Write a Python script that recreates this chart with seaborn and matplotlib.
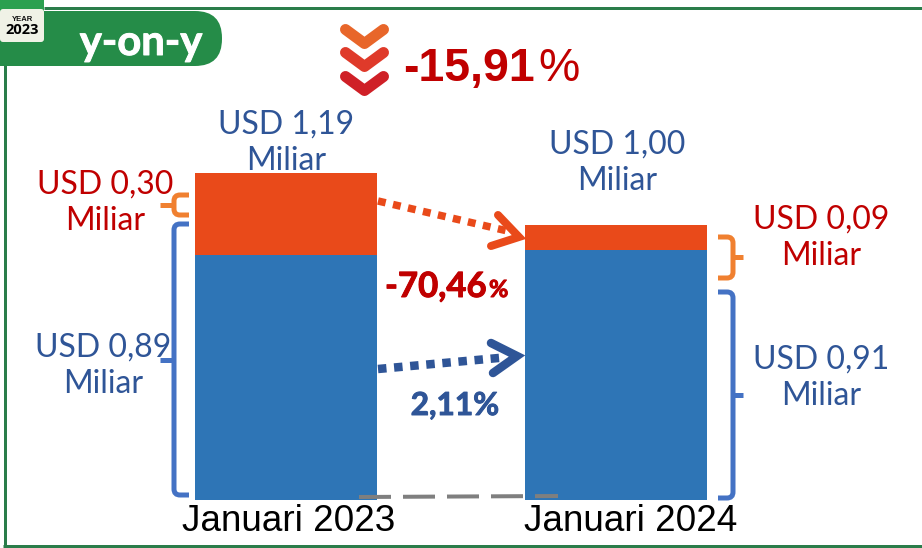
import matplotlib
matplotlib.use("Agg")
import pandas as pd
import seaborn as sns
from matplotlib import patheffects as pe
from matplotlib import pyplot as plt
from matplotlib.patches import FancyBboxPatch, PathPatch, Rectangle
from matplotlib.path import Path
from matplotlib.transforms import ScaledTranslation

months = ["Januari 2023", "Januari 2024"]
migas = [0.30, 0.09]
nonmigas = [0.89, 0.91]
totals = ["1,19", "1,00"]
migas_labels = ["0,30", "0,09"]
nonmigas_labels = ["0,89", "0,91"]
change_total = "-15,91"
change_migas = "-70,46"
change_nonmigas = "2,11%"

GREEN = "#258C48"
FRAME = "#2A7D4A"
ORANGE = "#E94A1A"
BLUE = "#2E75B6"
RED_TXT = "#C00000"
BLUE_TXT = "#2F5597"

W, H = 922, 548
PX = 0.72  # px to pt at dpi 100
LATO = ["Lato", "DejaVu Sans"]

sns.set_theme(style="white")
plt.rcParams["font.family"] = ["Liberation Sans", "DejaVu Sans"]

df = pd.DataFrame({"month": months, "migas": migas, "nonmigas": nonmigas})
df["total"] = df["migas"] + df["nonmigas"]

fig = plt.figure(figsize=(W / 100, H / 100), dpi=100, facecolor="white")
ax = fig.add_axes([0, 48 / H, 1, 500 / H])
sns.barplot(data=df, x="month", y="total", color=ORANGE, width=0.5515, saturation=1, linewidth=0, ax=ax)
sns.barplot(data=df, x="month", y="nonmigas", color=BLUE, width=0.5515, saturation=1, linewidth=0, ax=ax)
ax.set_xlim(-285.7 / 330, (W - 285.7) / 330)
ax.set_ylim(0, 500 / 275)
ax.set_xlabel("")
ax.set_ylabel("")
ax.set_yticks([])
ax.tick_params(axis="x", length=0, pad=3, labelsize=26.6, labelcolor="black")
ax.patch.set_alpha(0)
sns.despine(ax=ax, left=True, bottom=True, top=True, right=True)

# the labels sit a little right of the bars in the original
for lab, shift in zip(ax.get_xticklabels(), [2.5, 14.5]):
    lab.set_transform(lab.get_transform() + ScaledTranslation(shift / 100, 0, fig.dpi_scale_trans))

# overlay in picture pixels for the decoration
ov = fig.add_axes([0, 0, 1, 1], zorder=5)
ov.set_xlim(0, W)
ov.set_ylim(H, 0)
ov.axis("off")


def line(xs, ys, color, width, **kw):
    ov.plot(xs, ys, color=color, lw=width * PX, **kw)


def heavy(color):
    return [pe.withStroke(linewidth=0.7, foreground=color)]


# frame, open on the right
line([44, 922], [7.5, 7.5], FRAME, 3, solid_capstyle="butt")
line([4.5, 4.5], [60, 547], FRAME, 3, solid_capstyle="butt")
line([3, 922], [545.5, 545.5], FRAME, 3, solid_capstyle="butt")

# header pill and year tab
ov.add_patch(FancyBboxPatch((-40, 11), 262, 55, boxstyle="round,pad=0,rounding_size=27",
                            fc=GREEN, ec="none", zorder=3))
ov.add_patch(Rectangle((0, 0), 44, 12, fc="#2BA04F", ec="none", zorder=3))
ov.add_patch(FancyBboxPatch((0, 9), 44, 33, boxstyle="round,pad=0,rounding_size=3",
                            fc="#F0F2E6", ec="none", zorder=4))
ov.text(22, 19.5, "YEAR", ha="center", va="center", fontsize=5.5, fontweight="bold",
        color="#111111", zorder=5)
ov.text(22, 30, "2023", ha="center", va="center", fontsize=10.5, fontweight="bold",
        color="black", family=["Open Sans", "DejaVu Sans"], zorder=5)
ov.text(141, 55, "y-on-y", ha="center", va="baseline", fontsize=30, fontweight="bold",
        color="white", family=LATO, zorder=5, path_effects=heavy("white"))

# chevrons
for dy, c in zip([0, 23, 47], ["#E8662A", "#DF3A2A", "#CF2027"]):
    line([345.5, 364.5, 383.5], [29.5 + dy, 43.5 + dy, 29.5 + dy], c, 11,
         solid_capstyle="round", solid_joinstyle="round")

# headline change
ov.text(403, 81, change_total, ha="left", va="baseline", fontsize=33.5, fontweight="bold",
        color=RED_TXT)
ov.text(538, 81, "%", ha="left", va="baseline", fontsize=33.5, color=RED_TXT)


def label(x, y, value, color):
    ov.text(x, y, f"USD {value}\nMiliar", ha="center", va="center", fontsize=23,
            color=color, family=LATO, linespacing=1.28)


label(286, 142.5, totals[0], BLUE_TXT)
label(617, 162.5, totals[1], BLUE_TXT)
label(105, 203, migas_labels[0], RED_TXT)
label(821, 237.5, migas_labels[1], RED_TXT)
label(103, 365.5, nonmigas_labels[0], BLUE_TXT)
label(821, 377.5, nonmigas_labels[1], BLUE_TXT)

ov.text(385, 297, change_migas, ha="left", va="baseline", fontsize=25, fontweight="bold",
        color=RED_TXT, family=LATO, path_effects=heavy(RED_TXT))
ov.text(489, 297, "%", ha="left", va="baseline", fontsize=17, fontweight="bold",
        color=RED_TXT, family=LATO, path_effects=heavy(RED_TXT))
ov.text(455, 415, change_nonmigas, ha="center", va="baseline", fontsize=22.8, fontweight="bold",
        color=BLUE_TXT, family=LATO, path_effects=heavy(BLUE_TXT))


def brace(x_end, x_spine, x_tip, y0, y1, y_tip, color, width=5):
    r = min(6, (y1 - y0) / 3)
    d = 1 if x_end > x_spine else -1
    verts = [(x_end, y0), (x_spine + d * r, y0), (x_spine, y0), (x_spine, y0 + r),
             (x_spine, y1 - r), (x_spine, y1), (x_spine + d * r, y1), (x_end, y1)]
    codes = [Path.MOVETO, Path.LINETO, Path.CURVE3, Path.CURVE3, Path.LINETO,
             Path.CURVE3, Path.CURVE3, Path.LINETO]
    ov.add_patch(PathPatch(Path(verts, codes), fc="none", ec=color, lw=width * PX,
                           capstyle="butt"))
    line([x_spine, x_tip], [y_tip, y_tip], color, width, solid_capstyle="butt")


brace(189, 174, 160, 195, 215, 205, "#F08030")
brace(189, 174, 160, 224, 495, 360, "#4472C4")
brace(718, 733, 743, 237, 278, 257, "#F08030")
brace(718, 733, 743, 292, 498, 395, "#4472C4")

# change arrows
line([378, 512], [201, 232], ORANGE, 7.5, linestyle=(0, (1.05, 1.0)), dash_capstyle="butt")
line([498, 519, 491], [215, 237, 246], ORANGE, 8, solid_capstyle="round", solid_joinstyle="miter")
line([378, 504], [369, 357.5], "#2F5597", 8.5, linestyle=(0, (1.0, 0.9)), dash_capstyle="butt")
line([491, 517, 493], [343, 356, 373], "#2F5597", 8.5, solid_capstyle="round", solid_joinstyle="miter")

# baseline dashes
line([359, 558], [497, 496], "#7F7F7F", 4, linestyle=(0, (8, 3)), dash_capstyle="butt")

fig.savefig("out.png", dpi=100)
